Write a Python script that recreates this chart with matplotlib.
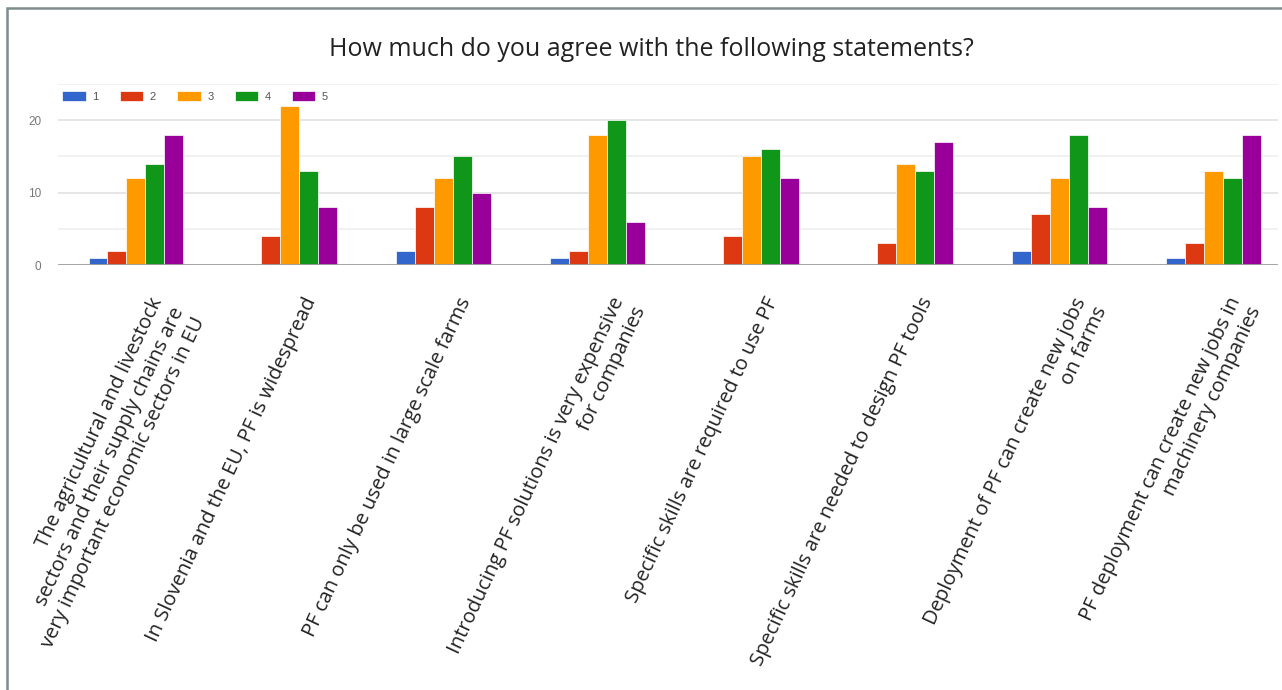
import numpy as np
import matplotlib.pyplot as plt
from matplotlib.patches import Rectangle
from matplotlib.transforms import ScaledTranslation

statements = [
    "The agricultural and livestock\nsectors and their supply chains are\nvery important economic sectors in EU",
    "In Slovenia and the EU, PF is widespread",
    "PF can only be used in large scale farms",
    "Introducing PF solutions is very expensive\nfor companies",
    "Specific skills are required to use PF",
    "Specific skills are needed to design PF tools",
    "Deployment of PF can create new jobs\non farms",
    "PF deployment can create new jobs in\nmachinery companies",
]
levels = ["1", "2", "3", "4", "5"]
answers_1 = [1, 0, 2, 1, 0, 0, 2, 1]
answers_2 = [2, 4, 8, 2, 4, 3, 7, 3]
answers_3 = [12, 22, 12, 18, 15, 14, 12, 13]
answers_4 = [14, 13, 15, 20, 16, 13, 18, 12]
answers_5 = [18, 8, 10, 6, 12, 17, 8, 18]
series = [answers_1, answers_2, answers_3, answers_4, answers_5]
colors = ["#3366cc", "#dc3912", "#ff9900", "#109618", "#990099"]

W, H = 1282, 690
fig = plt.figure(figsize=(W / 100, H / 100), dpi=100)
ax = fig.add_axes([58 / W, 425 / H, 1220 / W, 181 / H])

x = np.arange(len(statements))
bw = 0.123
handles = []
for i, (vals, c) in enumerate(zip(series, colors)):
    b = ax.bar(x + (i - 2) * bw, vals, width=bw, color=c,
               edgecolor="white", linewidth=0.5, zorder=2)
    handles.append(b)

ax.set_xlim(-0.506, 7.42)
ax.set_ylim(0, 25)
for s in ax.spines.values():
    s.set_visible(False)

# light grid every 5, slightly darker at labelled ticks
ax.set_yticks([0, 10, 20])
ax.set_yticks([5, 15, 25], minor=True)
ax.grid(axis="y", which="major", color="#e4e4e4", lw=1.3, zorder=0)
ax.grid(axis="y", which="minor", color="#f0f0f0", lw=1.3, zorder=0)
ax.axhline(0, color="#a0a0a0", lw=2, zorder=3)
ax.tick_params(axis="y", which="both", length=0, pad=12,
               labelsize=8.5, labelcolor="#777777")
for t in ax.get_yticklabels():
    t.set_family("Liberation Sans")

ax.set_xticks(x)
ax.set_xticklabels(statements, rotation=65, ha="right", va="top",
                   rotation_mode="anchor", multialignment="right",
                   fontsize=14.5, linespacing=1.2, family="Open Sans",
                   color="#222222")
ax.tick_params(axis="x", length=0, pad=21)
shift = ScaledTranslation(13 / 100, 0, fig.dpi_scale_trans)
for t in ax.get_xticklabels():
    t.set_transform(t.get_transform() + shift)

leg = ax.legend(handles, levels, loc="upper left", ncol=5, frameon=False,
                bbox_to_anchor=(0.0, 0.985), fontsize=8,
                handlelength=2.1, handleheight=0.95, handletextpad=0.6,
                columnspacing=1.9, borderaxespad=0.0)
for t in leg.get_texts():
    t.set_color("#555555")
    t.set_family("Liberation Sans")

fig.text(651 / W, 1 - 49 / H, "How much do you agree with the following statements?",
         ha="center", va="center", fontsize=18, family="Open Sans",
         color="#222222")

fig.patches.append(Rectangle((7 / W, -0.1), 1.2, 1 - 8 / H + 0.1,
                             transform=fig.transFigure, fill=False,
                             edgecolor="#7f8c8c", lw=1.8))

fig.savefig("out.png", dpi=100)
